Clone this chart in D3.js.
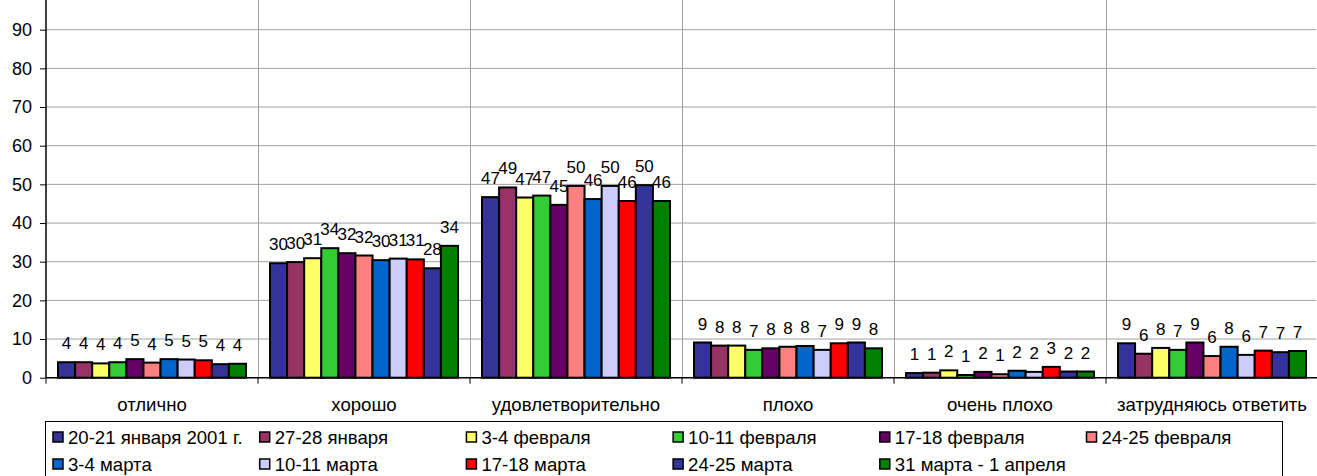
<!DOCTYPE html>
<html>
<head>
<meta charset="utf-8">
<script src="https://cdn.jsdelivr.net/npm/d3@7"></script>
<style>
  body { margin: 0; background: #fff; }
  svg { display: block; font-family: "Liberation Sans", Arial, sans-serif; }
</style>
</head>
<body>
<svg width="1317" height="476"></svg>
<script>
var categories = ["отлично", "хорошо", "удовлетворительно", "плохо", "очень плохо", "затрудняюсь ответить"];

var seriesNames = [
    "20-21 января 2001 г.", "27-28 января", "3-4 февраля", "10-11 февраля",
    "17-18 февраля", "24-25 февраля", "3-4 марта", "10-11 марта",
    "17-18 марта", "24-25 марта", "31 марта - 1 апреля"
];

var colors = ["#333399", "#993366", "#ffff66", "#33cc33", "#660066", "#ff8080",
    "#0066cc", "#ccccff", "#ff0000", "#333399", "#008000"];

// one row per series, one value per category
var values = [
    [4.0, 29.6, 46.7, 9.1, 1.2, 8.9],
    [4.0, 29.9, 49.2, 8.3, 1.3, 6.2],
    [3.7, 30.9, 46.6, 8.3, 1.9, 7.7],
    [4.0, 33.5, 47.1, 7.2, 0.7, 7.2],
    [4.8, 32.2, 44.7, 7.6, 1.5, 9.1],
    [3.9, 31.6, 49.6, 8.0, 0.9, 5.6],
    [4.8, 30.4, 46.2, 8.2, 1.8, 8.0],
    [4.7, 30.8, 49.6, 7.2, 1.5, 5.9],
    [4.5, 30.6, 45.7, 8.9, 2.8, 7.0],
    [3.5, 28.3, 49.8, 9.1, 1.6, 6.6],
    [3.6, 34.1, 45.7, 7.6, 1.6, 6.9]
];

var yTicks = [0, 10, 20, 30, 40, 50, 60, 70, 80, 90];

var svg = d3.select("svg"),
    left = 46, right = 1318, top = 11, bottom = 377.7;

var x0 = d3.scaleBand().domain(categories).range([left, right]);
var x1 = d3.scaleBand().domain(d3.range(seriesNames.length))
    .range([12, x0.bandwidth() - 12]);
var y = d3.scaleLinear().domain([0, 90]).range([bottom, 29.7]);

// gridlines
svg.append("g")
    .selectAll("line")
    .data(yTicks.slice(1))
    .enter().append("line")
    .attr("x1", left).attr("x2", 1316)
    .attr("y1", d => y(d)).attr("y2", d => y(d))
    .attr("stroke", "#a0a0a0").attr("stroke-width", 1);

svg.append("g")
    .selectAll("line")
    .data(categories.slice(1))
    .enter().append("line")
    .attr("x1", d => Math.round(x0(d)) + 0.5).attr("x2", d => Math.round(x0(d)) + 0.5)
    .attr("y1", top).attr("y2", bottom)
    .attr("stroke", "#a0a0a0").attr("stroke-width", 1);

// bars
var groups = svg.append("g")
    .selectAll("g")
    .data(categories)
    .enter().append("g")
    .attr("transform", d => "translate(" + x0(d) + ",0)");

groups.selectAll("rect")
    .data((c, ci) => values.map((row, si) => ({ s: si, v: row[ci] })))
    .enter().append("rect")
    .attr("x", d => x1(d.s))
    .attr("y", d => y(d.v))
    .attr("width", x1.bandwidth())
    .attr("height", d => bottom - y(d.v))
    .attr("fill", d => colors[d.s])
    .attr("stroke", "#000")
    .attr("stroke-width", 2);

groups.selectAll("text")
    .data((c, ci) => values.map((row, si) => ({ s: si, v: row[ci] })))
    .enter().append("text")
    .attr("x", d => x1(d.s) + x1.bandwidth() / 2)
    .attr("y", d => y(d.v) - 13)
    .attr("text-anchor", "middle")
    .attr("font-size", 17)
    .text(d => Math.round(d.v));

// axes
var yAxis = svg.append("g")
    .attr("transform", "translate(" + left + ",0)")
    .call(d3.axisLeft(y).tickValues(yTicks).tickSize(6).tickPadding(8));
yAxis.select(".domain").remove();
yAxis.selectAll("text").attr("font-size", 18).attr("font-family", "Liberation Sans, Arial").attr("fill", "#000");
yAxis.selectAll("line").attr("stroke", "#000");

svg.append("line")
    .attr("x1", left).attr("x2", left)
    .attr("y1", top).attr("y2", bottom)
    .attr("stroke", "#000").attr("stroke-width", 1.5);

svg.append("line")
    .attr("x1", left).attr("x2", 1317)
    .attr("y1", bottom).attr("y2", bottom)
    .attr("stroke", "#000").attr("stroke-width", 1.5);

svg.append("g")
    .selectAll("line")
    .data(categories.concat(["end"]))
    .enter().append("line")
    .attr("x1", (d, i) => left + i * x0.bandwidth())
    .attr("x2", (d, i) => left + i * x0.bandwidth())
    .attr("y1", bottom).attr("y2", bottom + 6)
    .attr("stroke", "#000");

svg.append("g")
    .selectAll("text")
    .data(categories)
    .enter().append("text")
    .attr("x", d => x0(d) + x0.bandwidth() / 2)
    .attr("y", 411)
    .attr("text-anchor", "middle")
    .attr("font-size", 18.6)
    .text(d => d);

// legend
var legend = svg.append("g");
legend.append("rect")
    .attr("x", 45.5).attr("y", 421.5)
    .attr("width", 1237).attr("height", 60)
    .attr("fill", "none").attr("stroke", "#000").attr("stroke-width", 1);

var item = legend.selectAll("g")
    .data(seriesNames)
    .enter().append("g")
    .attr("transform", (d, i) => "translate(" + (53 + (i % 6) * 206.7) + "," + (i < 6 ? 437 : 464) + ")");

item.append("rect")
    .attr("x", 0).attr("y", -5)
    .attr("width", 10).attr("height", 10)
    .attr("fill", (d, i) => colors[i])
    .attr("stroke", "#000").attr("stroke-width", 1.5);

item.append("text")
    .attr("x", 15).attr("y", 6.5)
    .attr("font-size", 18.6)
    .text(d => d);
</script>
</body>
</html>
